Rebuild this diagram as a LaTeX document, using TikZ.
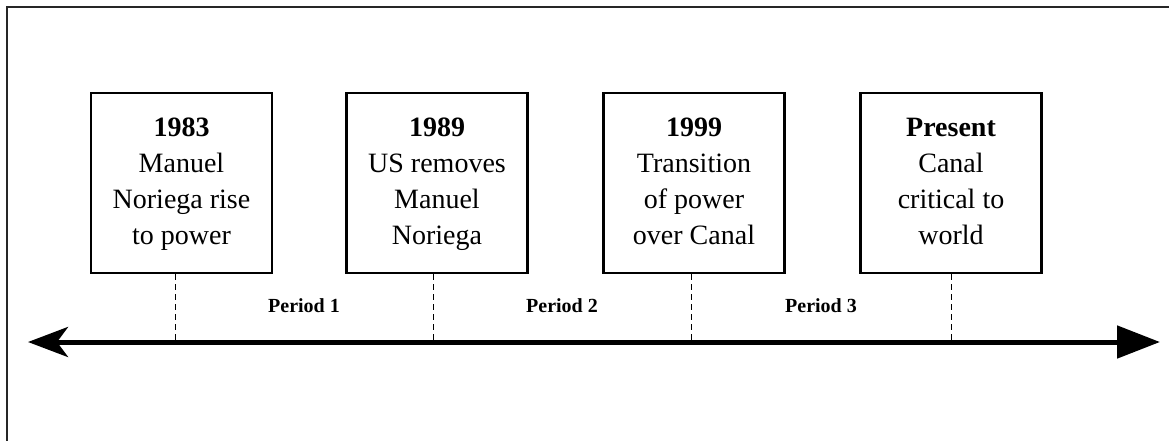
\documentclass[tikz,border=0pt]{standalone}
\usepackage{fontspec}
\setmainfont{Liberation Serif}
\usetikzlibrary{arrows.meta}
\tikzset{
  evbox/.style={draw, line width=2.2pt, minimum width=181pt, minimum height=180pt, inner sep=0pt, align=center, font=\fontsize{28}{36}\selectfont},
  tick/.style={draw, line width=1pt, dash pattern=on 6pt off 4pt},
  periodlbl/.style={font=\fontsize{20}{24}\selectfont\bfseries, inner sep=0pt},
  axis/.style={line width=5pt, {Stealth[length=40pt,width=30pt,inset=11pt]}-{Triangle[length=43pt,width=32pt]}},
  frame/.style={line width=1.6pt, draw=black!85}
}
\begin{document}
\begin{tikzpicture}[x=1pt,y=-1pt]
\useasboundingbox (0,0) rectangle (1169,440);
\draw[frame] (7,441) -- (7,7) -- (1170,7);
\node[evbox] (b1) at (181.5,183) {\strut\textbf{1983}\\Manuel\\Noriega rise\\to power\strut};
\node[evbox] (b2) at (437,183) {\strut\textbf{1989}\\US removes\\Manuel\\Noriega\strut};
\node[evbox] (b3) at (694,183) {\strut\textbf{1999}\\Transition\\of power\\over Canal\strut};
\node[evbox] (b4) at (951,183) {\strut\textbf{Present}\\Canal\\critical to\\world\strut};
\coordinate (L) at (28,342);
\coordinate (R) at (1160,342);
\coordinate (d1) at (175,342);
\coordinate (d2) at (433,342);
\coordinate (d3) at (691,342);
\coordinate (d4) at (951,342);
\draw[tick] (b1.south -| d1) -- (d1);
\draw[tick] (b2.south -| d2) -- (d2);
\draw[tick] (b3.south -| d3) -- (d3);
\draw[tick] (b4.south -| d4) -- (d4);
\draw[axis] (L) -- (R);
\node[periodlbl] (p1) at (304,306) {Period 1};
\node[periodlbl] (p2) at (562,306) {Period 2};
\node[periodlbl] (p3) at (821,306) {Period 3};
\end{tikzpicture}
\end{document}
